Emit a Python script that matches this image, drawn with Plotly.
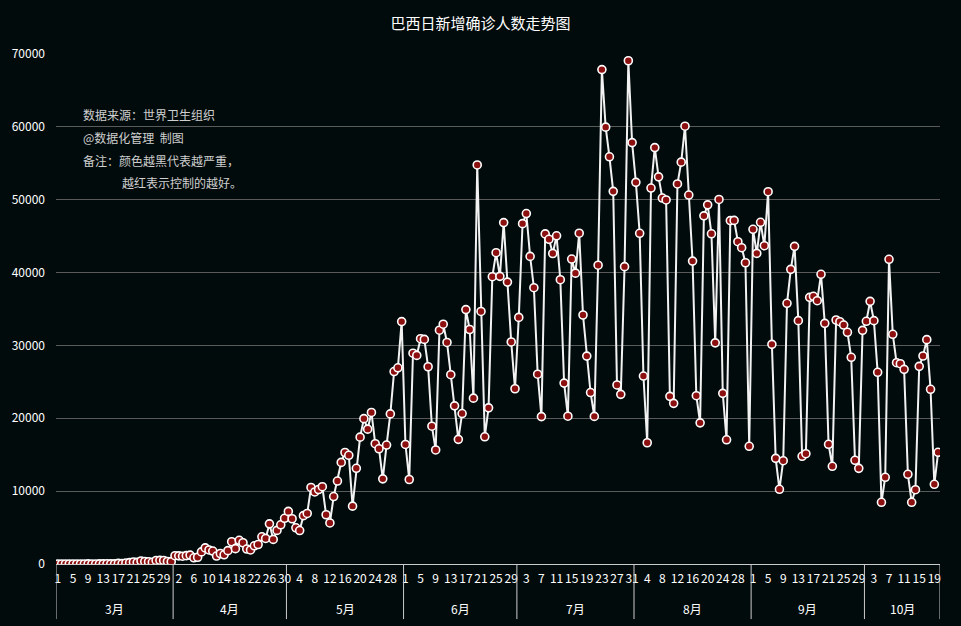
import pandas as pd
import plotly.graph_objects as go

# ---- data ----
start_date = "2020-03-01"
end_date = "2020-10-20"

mar = [0, 0, 0, 1, 1, 5, 5, 0, 12, 5, 6, 18, 21, 26, 21, 23, 79, 57, 137, 193,
       283, 224, 418, 345, 310, 232, 482, 502, 487, 352, 323]
apr = [1138, 1119, 1074, 1146, 1222, 852, 926, 1661, 2210, 1930, 1781, 1089, 1442, 1261, 1832,
       3058, 2105, 3257, 2917, 2055, 1927, 2498, 2678, 3735, 3503, 5514, 3379, 4613, 5385, 6276]
may = [7218, 6209, 4970, 4588, 6633, 6935, 10503, 9888, 10222, 10611, 6760, 5632, 9258, 11385,
       13944, 15305, 14919, 7938, 13140, 17408, 19951, 18508, 20803, 16508, 15813, 11687, 16324,
       20599, 26417, 26928, 33274]
jun = [16409, 11598, 28936, 28633, 30925, 30830, 27075, 18912, 15654, 32091, 32913, 30412, 25982,
       21704, 17110, 20647, 34918, 32188, 22765, 54771, 34666, 17459, 21432, 39436, 42725, 39483,
       46860, 38693, 30476, 24052]
jul = [33846, 46712, 48105, 42223, 37923, 26051, 20229, 45305, 44571, 42619, 45048, 39023, 24831,
       20286, 41857, 39924, 45403, 34177, 28532, 23529, 20257, 41008, 67860, 59961, 55891, 51147,
       24578, 23284, 40816, 69074, 57837]
aug = [52383, 45392, 25800, 16641, 51603, 57152, 53139, 50230, 49970, 23010, 22048, 52160, 55155,
       60091, 50644, 41576, 23101, 19373, 47784, 49298, 45323, 30355, 50032, 23421, 17045, 47134,
       47161, 44235, 43412, 41350, 16158]
sep = [45940, 42640, 46900, 43690, 51100, 30150, 14500, 10250, 14180, 35780, 40440, 43600, 33400,
       14780, 15140, 36600, 36740, 36140, 39760, 33030, 16430, 13410, 33490, 33260, 32800, 31800,
       28370, 14230, 13130, 32070]
oct_ = [33310, 36050, 33400, 26310, 8470, 11900, 41820, 31530, 27630, 27490, 26720, 12310, 8470,
        10200, 27130, 28550, 30790, 23980, 10940, 15330]

new_cases = mar + apr + may + jun + jul + aug + sep + oct_

y_ticks = [0, 10000, 20000, 30000, 40000, 50000, 60000, 70000]
title_text = "巴西日新增确诊人数走势图"
note_lines = ["数据来源：世界卫生组织", "@数据化管理  制图", "备注：颜色越黑代表越严重，", "越红表示控制的越好。"]

# ---- derived ----
dates = pd.date_range(start_date, end_date, freq="D")
idx = list(range(len(dates)))
days = [d.day for d in dates]
months = [d.month for d in dates]

BG = "#020b0c"
FONT = "Noto Sans CJK SC, Noto Sans, sans-serif"

fig = go.Figure()
fig.add_trace(go.Scatter(
    x=idx, y=new_cases, mode="lines+markers",
    line=dict(color="#f2f2f2", width=2),
    marker=dict(size=8, color="#8c1010", line=dict(color="#ffffff", width=1.6)),
    hoverinfo="y", showlegend=False,
))

tick_vals = idx[::4]
tick_text = [str(days[i]) for i in tick_vals]

# month boundaries and labels
bounds = [-0.5]
month_labels = []
month_centers = []
cur = months[0]
s = 0
for i, m in enumerate(months + [None]):
    if m != cur:
        bounds.append(i - 0.5)
        month_centers.append((s + i - 1) / 2)
        month_labels.append(f"{cur}月")
        cur = m
        s = i

shapes = []
for b in bounds:
    shapes.append(dict(type="line", xref="x", yref="paper", x0=b, x1=b, y0=0, y1=-0.108,
                       line=dict(color="#cccccc", width=1)))

annotations = []
for c, lab in zip(month_centers, month_labels):
    annotations.append(dict(x=c, y=-0.088, xref="x", yref="paper", text=lab, showarrow=False,
                            font=dict(size=12, color="#ffffff", family=FONT),
                            xanchor="center", yanchor="middle"))

note_y = [0.882, 0.837, 0.792, 0.749]
note_x = [0.0283, 0.0283, 0.0283, 0.0724]
for t, xx, yy in zip(note_lines, note_x, note_y):
    annotations.append(dict(x=xx, y=yy, xref="paper", yref="paper", text=t, showarrow=False,
                            font=dict(size=12, color="#cfcfcf", family=FONT),
                            xanchor="left", yanchor="middle"))

fig.update_layout(
    width=961, height=626,
    paper_bgcolor=BG, plot_bgcolor=BG,
    margin=dict(l=56, r=21, t=54, b=62),
    title=dict(text=title_text, x=0.5, xref="container", xanchor="center",
               y=1 - 24 / 626, yref="container", yanchor="middle",
               font=dict(size=15, color="#ffffff", family=FONT)),
    xaxis=dict(range=[-0.5, len(idx) - 0.5], tickmode="array", tickvals=tick_vals, ticktext=tick_text,
               showgrid=False, zeroline=False, showline=True, linecolor="#cccccc", linewidth=1,
               ticks="", ticklabelstandoff=4,
               tickfont=dict(size=12, color="#ffffff", family=FONT), tickangle=0),
    yaxis=dict(range=[0, 70000], tickmode="array", tickvals=y_ticks, ticktext=[str(v) for v in y_ticks],
               showgrid=True, gridcolor="#5a5a5a", gridwidth=1, zeroline=False, showline=False,
               ticks="", ticklabelstandoff=10,
               tickfont=dict(size=12, color="#ffffff", family=FONT)),
    shapes=shapes, annotations=annotations,
    hovermode="closest",
)

fig.write_html("out.html")
